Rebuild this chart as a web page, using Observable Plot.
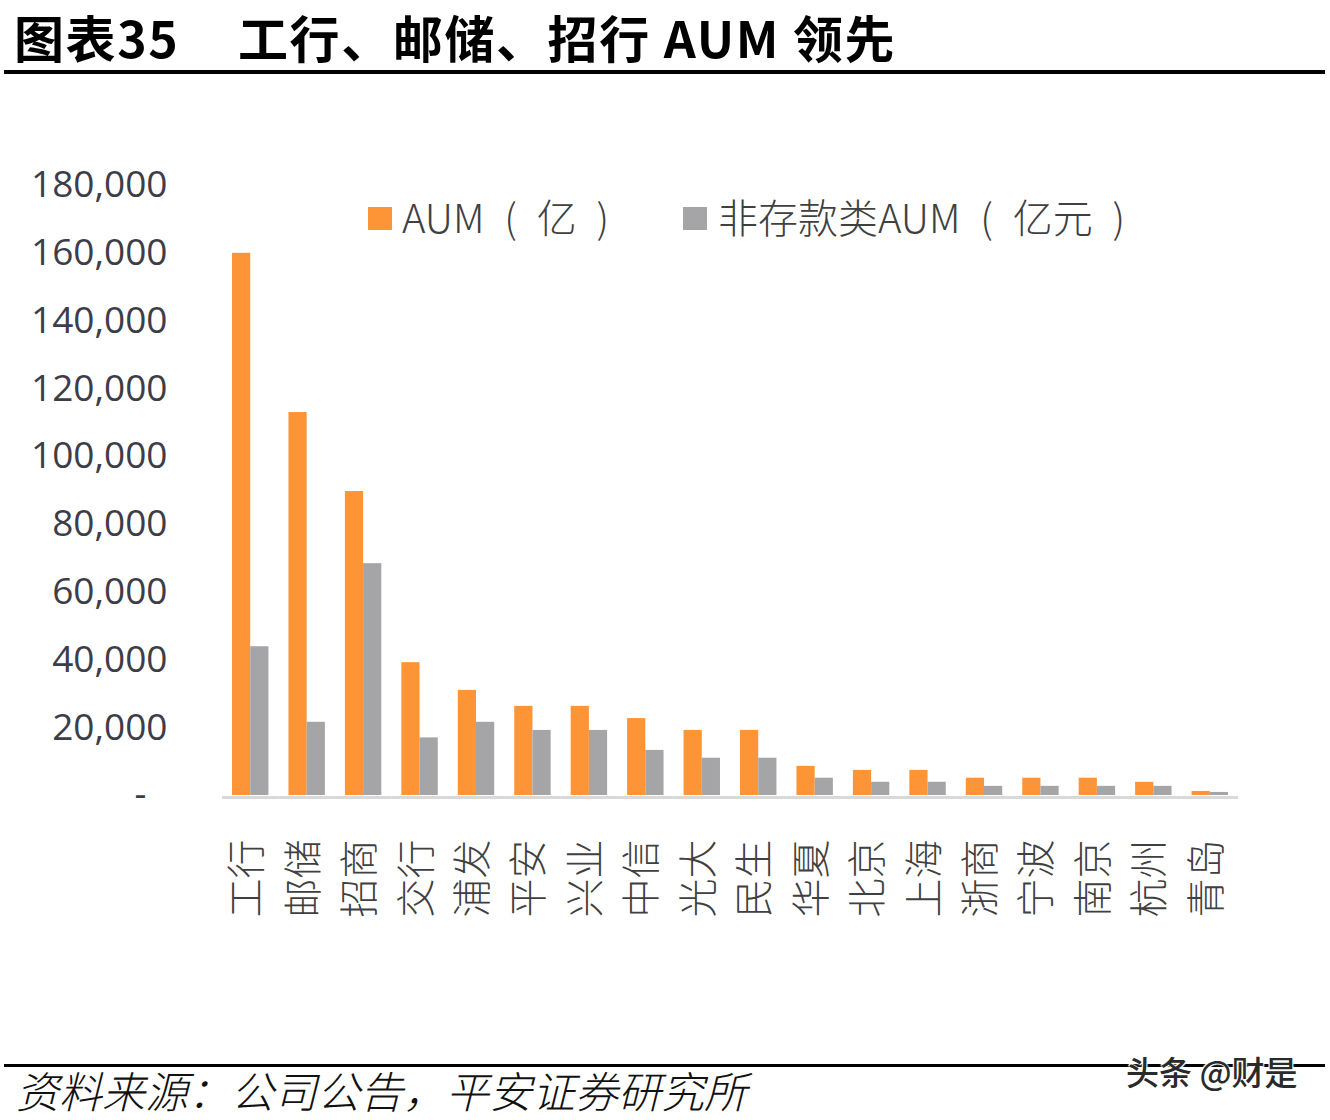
<!DOCTYPE html>
<html>
<head>
<meta charset="utf-8">
<script src="https://cdn.jsdelivr.net/npm/d3@7"></script>
<script src="https://cdn.jsdelivr.net/npm/@observablehq/plot@0.6"></script>
<style>
  html, body { margin: 0; padding: 0; background: #ffffff; }
  #page { position: relative; width: 1330px; height: 1120px; overflow: hidden; background: #ffffff; }
  .abs { position: absolute; white-space: nowrap; }
  .title { font-family: "Noto Sans CJK SC", sans-serif; font-weight: 700; font-size: 50px; line-height: 73px; color: #000; letter-spacing: 1.6px; }
  .rule { position: absolute; background: #000; }
  .leg { font-family: "Noto Sans CJK SC", sans-serif; font-weight: 300; font-size: 40px; line-height: 50px; color: #404040; word-spacing: 11px; }
  .sw { position: absolute; width: 24px; height: 23px; }
  .src { font-family: "Noto Sans CJK SC", sans-serif; font-style: italic; font-weight: 300; font-size: 43px; line-height: 62px; color: #111; }
  .wm { font-family: "Noto Sans CJK SC", sans-serif; font-weight: 500; font-size: 33px; line-height: 48px; color: #2a2a2a;
        text-shadow: 0 0 2px #fff, 0 0 2px #fff, 1px 1px 1px #fff, -1px -1px 1px #fff; }
  #chart { position: absolute; left: 0; top: 100px; }
</style>
</head>
<body>
<div id="page">
  <div class="abs title" style="left:14px; top:0px;">图表35</div>
  <div class="abs title" style="left:238px; top:0px;">工行、邮储、招行 AUM 领先</div>
  <div class="rule" style="left:4px; top:70px; width:1321px; height:4px;"></div>

  <div id="chart"></div>

  <div class="sw" style="left:368px; top:207px; background:#fd9537;"></div>
  <div class="abs leg" style="left:402px; top:191px;">AUM ( 亿 )</div>
  <div class="sw" style="left:683px; top:207px; background:#a5a5a8;"></div>
  <div class="abs leg" style="left:718px; top:191px;">非存款类AUM ( 亿元 )</div>

  <div class="rule" style="left:4px; top:1064px; width:1321px; height:3px;"></div>
  <div class="abs src" style="left:16px; top:1058px;">资料来源：公司公告，平安证券研究所</div>
  <div class="abs wm" style="left:1126px; top:1047px;">头条 @财是</div>
</div>
<script>
const banks = ["工行","邮储","招商","交行","浦发","平安","兴业","中信","光大","民生","华夏","北京","上海","浙商","宁波","南京","杭州","青岛"];
const aum = [160000, 113000, 89700, 39200, 31000, 26300, 26300, 22700, 19200, 19200, 8600, 7400, 7400, 5100, 5100, 5100, 3900, 1200];
const nonDepositAum = [43900, 21600, 68400, 17000, 21600, 19200, 19200, 13300, 11000, 11000, 5100, 3900, 3900, 2700, 2700, 2700, 2700, 900];
const seriesNames = ["AUM（亿）", "非存款类AUM（亿元）"];
const seriesColors = ["#fd9537", "#a5a5a8"];
const yTicks = [0, 20000, 40000, 60000, 80000, 100000, 120000, 140000, 160000, 180000];

const data = banks.flatMap((b, i) => [
  {bank: b, series: seriesNames[0], value: aum[i]},
  {bank: b, series: seriesNames[1], value: nonDepositAum[i]}
]);

const fmt = d3.format(",");
const chart = Plot.plot({
  width: 1330,
  height: 900,
  marginTop: 85,
  marginBottom: 205,
  marginLeft: 222,
  marginRight: 92,
  style: {background: "transparent", color: "#404040", overflow: "visible"},
  fx: {domain: banks, paddingInner: 0, paddingOuter: 0, round: false, label: null, axis: null},
  x: {domain: seriesNames, paddingInner: 0, paddingOuter: 0.55, round: false, axis: null},
  y: {domain: [0, 180000], axis: null},
  color: {domain: seriesNames, range: seriesColors},
  marks: [
    Plot.barY(data, {fx: "bank", x: "series", y: "value", fill: "series"}),
    Plot.ruleY([0], {stroke: "#d9d9d9", strokeWidth: 3, dy: 2}),
    Plot.axisY({ticks: yTicks, tickFormat: d => d === 0 ? "-\u2007" : fmt(d), tickSize: 0, tickPadding: 55,
                fontSize: 37, fontFamily: "'Open Sans', sans-serif", fill: "#3d3d48", label: null}),
    Plot.axisFx({anchor: "bottom", tickRotate: -90, tickSize: 0, tickPadding: 44, fontSize: 39,
                 fontFamily: "'Noto Sans CJK SC', sans-serif", fontWeight: 300, fill: "#404040", label: null, dx: -3})
  ]
});
document.getElementById("chart").appendChild(chart);
</script>
</body>
</html>
